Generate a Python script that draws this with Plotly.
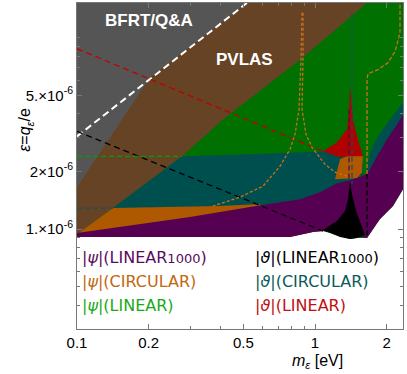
import math
import plotly.graph_objects as go

U = 1e-6  # epsilon values below are in units of 1e-6

# axis ranges
m_range = [0.1, 2.343]
eps_range = [3.0e-7, 1.52e-5]

# ---- exclusion regions (m in eV, eps in 1e-6) ----
bg_m = [0.1, 0.1, 2.45, 2.45, 2.343, 2.127, 1.8758, 1.7363, 1.6544, 1.5017, 1.4032, 1.2735, 1.0804, 0.9808, 0.7852, 0.1]
bg_e = [0.909, 16, 16, 1.616, 1.616, 1.318, 1.127, 0.976, 0.898, 0.898, 0.887, 0.920, 0.976, 0.965, 0.909, 0.909]

pvlas_m = [0.1, 1.68, 1.654, 0.865, 0.4108, 0.2762, 0.1417, 0.1019, 0.1]
pvlas_e = [16, 16, 15.22, 7.68, 3.741, 2.400, 1.286, 0.953, 0.953]

bfrt_m = [0.1, 0.545, 0.2026, 0.1]
bfrt_e = [16, 16, 6.19, 1.655]

teal_m = [0.1417, 0.2762, 0.5333, 0.865, 1.156, 1.337, 1.5916, 1.5916, 0.1417]
teal_e = [1.286, 2.400, 2.458, 2.518, 2.548, 2.458, 2.371, 1.433, 0.909]

tealr_m = [1.6544, 1.7195, 1.8579, 2.066, 2.343, 2.45, 2.45, 1.6544]
tealr_e = [2.129, 2.610, 3.125, 3.741, 4.587, 4.9, 1.8, 1.8]

orl_m = [0.1, 0.103, 0.1417, 0.399, 0.5873, 0.5873, 0.1]
orl_e = [0.931, 0.965, 1.286, 1.318, 1.350, 0.909, 0.909]

ors_m = [1.2133, 1.2735, 1.363, 1.5916, 1.5762, 1.5017]
ors_e = [1.822, 2.315, 2.400, 2.429, 1.981, 1.843]

red_m = [1.4032, 1.4306, 1.4446, 1.5017, 1.5916, 1.363, 1.2735, 1.0804, 1.237, 1.363, 1.3897]
red_e = [5.557, 4.217, 3.741, 3.050, 2.400, 2.400, 2.371, 2.548, 2.839, 3.318, 4.217]

pur_m = [0.1, 0.2985, 0.5333, 0.865, 1.0496, 1.237, 1.4032, 1.5762, 1.6544, 1.703, 1.8224, 2.007,
         2.211, 2.388, 2.45, 2.45, 2.343, 2.127, 1.8758, 1.7363, 1.6544, 1.0804, 0.9808, 0.7852, 0.1]
pur_e = [0.953, 1.155, 1.302, 1.433, 1.558, 1.736, 1.800, 1.888, 1.957, 2.054, 2.400, 2.943,
         3.523, 4.117, 4.117, 1.616, 1.616, 1.318, 1.127, 0.976, 0.898, 0.976, 0.965, 0.909, 0.909]

blk_m = [1.0804, 1.237, 1.337, 1.3763, 1.4032, 1.4306, 1.4873, 1.5762, 1.6226, 1.5017, 1.4032, 1.2735]
blk_e = [0.988, 1.101, 1.241, 1.433, 1.778, 1.521, 1.241, 1.024, 0.931, 0.898, 0.887, 0.909]

# ---- dashed curves ----
white_m = [0.1, 0.5452]
white_e = [3.05, 16]
redd_m = [0.1, 1.0804]
redd_e = [8.765, 2.548]
blkd_m = [0.1, 1.0804]
blkd_e = [3.239, 0.976]
grnd_m = [0.1, 0.2762]
grnd_e = [2.4, 2.4]
teald_m = [0.1, 0.1417]
teald_e = [1.286, 1.286]
oa_m = [0.8819, 0.8734, 0.8566, 0.8241, 0.7852, 0.7128, 0.6046, 0.4841, 0.3727]
oa_e = [13.50, 7.68, 4.217, 3.125, 2.610, 2.129, 1.675, 1.468, 1.318]
ob_m = [0.8905, 0.8905, 0.8819, 0.9167, 0.9714, 1.1015, 1.2133, 1.363]
ob_e = [13.50, 7.68, 4.217, 3.125, 2.674, 2.181, 1.981, 1.888]
oc_m = [2.276, 2.276, 2.168, 2.026, 1.8402, 1.6705, 1.6544, 1.6544]
oc_e = [16, 10.62, 8.456, 7.41, 6.813, 6.494, 6.043, 1.934]
bv_m = [1.6544, 1.6544]
bv_e = [1.934, 0.909]
tv_m = [1.4306, 1.4306]
tv_e = [13.5, 1.715]
pv_m = [1.3897, 1.3897]
pv_e = [4.217, 1.715]

# ---- labels ----
region_labels = ["BFRT/Q&A", "PVLAS"]
region_label_m = [0.2007, 0.508]
region_label_e = [12.26, 7.68]

legend_left = ["|<i>ψ</i>|(LINEAR<span style='font-size:13px'>1000</span>)",
               "|<i>ψ</i>|(CIRCULAR)", "|<i>ψ</i>|(LINEAR)"]
legend_left_colors = ["#5a0a5e", "#c0680e", "#1aa81a"]
legend_right = ["|<i>ϑ</i>|(LINEAR<span style='font-size:13px'>1000</span>)",
                "|<i>ϑ</i>|(CIRCULAR)", "|<i>ϑ</i>|(LINEAR)"]
legend_right_colors = ["#000000", "#0b5a5a", "#c01010"]

y_tick_vals = [1e-6, 2e-6, 5e-6]
y_tick_text = ["1.×10<sup>-6</sup>", "2×10<sup>-6</sup>", "5.×10<sup>-6</sup>"]
y_minor = [3e-7, 4e-7, 5e-7, 6e-7, 7e-7, 8e-7, 9e-7, 3e-6, 4e-6, 6e-6, 7e-6, 8e-6, 9e-6, 1e-5]
x_tick_vals = [0.1, 0.2, 0.5, 1, 2]
x_tick_text = ["0.1", "0.2", "0.5", "1", "2"]
x_minor = [0.3, 0.4, 0.6, 0.7, 0.8, 0.9]

fig = go.Figure()


def poly(mx, ey, color):
    fig.add_trace(go.Scatter(x=mx, y=[v * U for v in ey], mode="lines", fill="toself",
                             fillcolor=color, line=dict(width=0, color=color),
                             hoverinfo="skip", showlegend=False))


def dline(mx, ey, color, width=1.3, dash="5px,3px"):
    fig.add_trace(go.Scatter(x=mx, y=[v * U for v in ey], mode="lines",
                             line=dict(color=color, width=width, dash=dash),
                             hoverinfo="skip", showlegend=False))


poly(bg_m, bg_e, "#007000")
poly(pvlas_m, pvlas_e, "#654324")
poly(bfrt_m, bfrt_e, "#555555")
poly(teal_m, teal_e, "#004f4f")
poly(tealr_m, tealr_e, "#004f4f")
poly(orl_m, orl_e, "#ae5800")
poly(ors_m, ors_e, "#ae5800")
poly(red_m, red_e, "#b00000")
poly(pur_m, pur_e, "#560052")
poly(blk_m, blk_e, "#000000")

dline(white_m, white_e, "#ffffff", 2, "7px,4px")
dline(redd_m, redd_e, "#c00000", 1.3, "6px,4px")
dline(blkd_m, blkd_e, "#000000", 1.3, "6px,4px")
dline(grnd_m, grnd_e, "#00a000", 1.3, "5px,3px")
dline(teald_m, teald_e, "#0b5a5a", 1.3, "5px,3px")
dline(oa_m, oa_e, "#c8701e", 1.3, "3px,2px")
dline(ob_m, ob_e, "#c8701e", 1.3, "3px,2px")
dline(oc_m, oc_e, "#c8701e", 1.3, "4px,2px")
dline(bv_m, bv_e, "#000000", 1.3, "5px,3px")
dline(tv_m, tv_e, "#1a4a70", 1.2, "5px,3px")
dline(pv_m, pv_e, "#4a0a50", 1.2, "5px,3px")

annotations = []
for t, m, e in zip(region_labels, region_label_m, region_label_e):
    annotations.append(dict(x=math.log10(m), y=math.log10(e * U), xref="x", yref="y",
                            text="<b>" + t + "</b>", showarrow=False,
                            font=dict(family="Liberation Sans, Arial", size=17, color="white")))

row_y = [0.2178, 0.1442, 0.0736]
for i in range(3):
    annotations.append(dict(x=0.009, y=row_y[i], xref="paper", yref="paper", xanchor="left",
                            yanchor="middle", text=legend_left[i], showarrow=False,
                            font=dict(family="DejaVu Sans", size=16, color=legend_left_colors[i])))
    annotations.append(dict(x=0.54, y=row_y[i], xref="paper", yref="paper", xanchor="left",
                            yanchor="middle", text=legend_right[i], showarrow=False,
                            font=dict(family="DejaVu Sans", size=16, color=legend_right_colors[i])))

annotations.append(dict(x=-0.193, y=0.61, xref="paper", yref="paper", textangle=-90,
                        text="<i>ε</i>=<i>q</i><sub><i>ε</i></sub>/e", showarrow=False,
                        font=dict(family="Liberation Sans, Arial", size=16, color="black")))
annotations.append(dict(x=0.822, y=-0.1, xref="paper", yref="paper", yanchor="middle",
                        text="<i>m</i><sub><i>ε</i></sub> [eV]", showarrow=False,
                        font=dict(family="Liberation Sans, Arial", size=16, color="black")))

axis_common = dict(showgrid=False, zeroline=False, showline=True, linecolor="#777777",
                   linewidth=1, mirror="allticks", ticks="inside", ticklen=5, automargin=False,
                   tickcolor="#777777", tickfont=dict(family="Liberation Sans, Arial", size=15, color="black"))

fig.update_xaxes(type="log", range=[math.log10(m_range[0]), math.log10(m_range[1])],
                 tickvals=x_tick_vals, ticktext=x_tick_text,
                 minor=dict(tickvals=x_minor, ticks="inside", ticklen=3, tickcolor="#777777"),
                 **axis_common)
fig.update_yaxes(type="log", range=[math.log10(eps_range[0]), math.log10(eps_range[1])],
                 tickvals=y_tick_vals, ticktext=y_tick_text,
                 minor=dict(tickvals=y_minor, ticks="inside", ticklen=3, tickcolor="#777777"),
                 **axis_common)

fig.update_layout(width=407, height=374, margin=dict(l=77, r=4, t=3, b=45, autoexpand=False),
                  paper_bgcolor="white", plot_bgcolor="white", showlegend=False,
                  annotations=annotations)

fig.write_html("out.html", config={"displayModeBar": False},
               post_script="document.body.style.margin='0';document.body.style.padding='0';")
